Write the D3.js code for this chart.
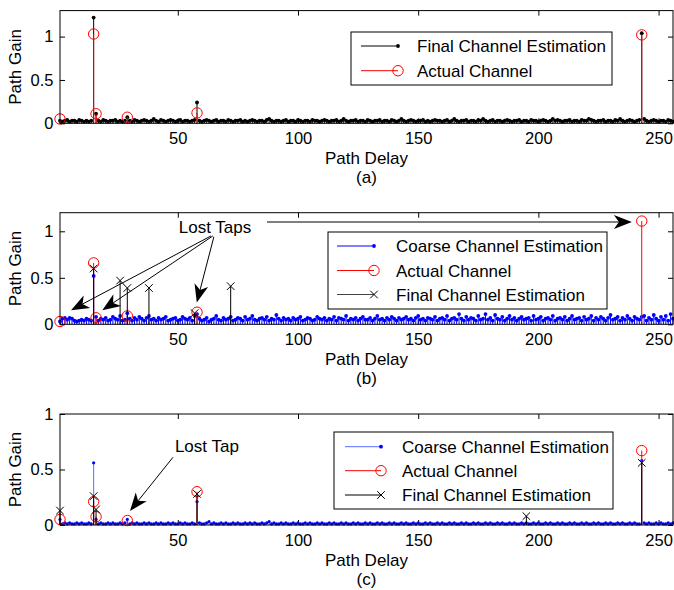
<!DOCTYPE html>
<html><head><meta charset="utf-8">
<script src="https://cdn.jsdelivr.net/npm/d3@7"></script>
<style>
html,body{margin:0;padding:0;background:#fff;}
svg text{font-family:"Liberation Sans",Arial,Helvetica,sans-serif;}
</style></head>
<body><svg id="chart" width="674" height="590"></svg>
<script>
// ---------- DATA (gains in hundredths where noted) ----------
const xTicks = [50, 100, 150, 200, 250];
const yTicksAll = [0, 0.5, 1];

// (a) Final channel estimation, delays 1..256 (hundredths)
const finalA = [
3,2,3,4,2,3,3,2,4,3,2,3,2,3,122,11,
3,2,4,3,2,3,3,4,2,3,2,3,7,3,2,4,
3,2,3,4,3,2,3,5,3,2,4,3,2,3,4,3,
2,3,4,2,3,3,2,3,4,24,3,2,3,4,3,2,
3,4,2,3,3,2,4,3,2,3,3,4,2,3,2,3,
4,3,2,3,3,2,4,5,3,2,3,3,2,3,4,2,
3,3,2,4,3,2,3,3,2,4,3,3,2,3,4,3,
2,3,3,4,2,3,5,3,2,3,3,4,2,3,3,2,
4,3,2,3,3,4,2,3,3,2,4,3,2,3,5,3,
2,3,4,3,2,3,3,4,2,3,2,3,4,3,3,2,
3,4,2,3,5,3,2,3,3,4,2,3,3,2,4,3,
5,3,2,3,4,2,3,3,2,3,4,3,2,3,3,4,
2,3,3,2,4,3,3,2,3,4,3,2,3,5,3,4,
3,2,3,3,4,2,3,3,2,4,3,3,5,4,3,2,
3,3,4,2,3,3,2,4,3,5,3,2,3,4,3,2,
3,4,104,5,3,2,3,4,3,2,3,3,2,4,3,2];
const actualADelay = [1, 15, 16, 29, 58, 243];
const actualAGain  = [0.05, 1.03, 0.11, 0.07, 0.12, 1.02];

// (b) Coarse channel estimation, delays 1..256 (hundredths)
const coarseB = [
3,6,7,5,7,6,4,3,4,5,4,6,5,4,52,8,
4,6,5,7,4,5,8,6,5,9,4,5,12,6,4,7,
5,8,6,4,7,9,5,6,4,7,5,6,8,4,5,6,
7,4,5,8,6,5,7,4,9,11,6,4,5,7,3,5,
6,9,5,4,7,5,6,8,4,5,7,6,4,8,5,6,
9,5,4,6,7,5,8,4,6,5,10,6,4,7,5,6,
4,7,5,6,8,4,5,7,6,4,5,8,6,5,7,4,
6,5,8,4,7,6,5,9,4,6,5,7,4,6,8,5,
5,7,4,6,9,5,6,4,7,5,8,6,4,7,5,6,
8,5,6,4,7,9,5,6,4,7,6,5,8,4,6,7,
5,9,4,6,7,5,11,6,4,8,5,7,6,4,9,5,
6,11,5,7,4,10,6,5,8,4,6,9,5,7,4,6,
8,5,6,7,4,9,5,6,8,4,6,7,5,9,4,6,
7,5,8,4,6,9,5,6,7,4,8,5,6,9,4,7,
5,8,6,4,7,10,5,6,8,4,7,5,9,6,4,8,
6,5,8,9,4,7,5,10,6,4,8,5,9,4,11,6];
const actualBDelay = [1, 15, 16, 29, 58, 243];
const actualBGain  = [0.03, 0.66, 0.07, 0.09, 0.13, 1.11];
const finalBDelay  = [15, 26, 29, 38, 57, 72];
const finalBGain   = [0.60, 0.47, 0.39, 0.39, 0.12, 0.41];

// (c) Coarse channel estimation, delays 1..256 (hundredths)
const coarseC = [
5,1,2,1,2,1,1,2,1,2,1,1,2,1,56,5,
1,2,1,1,2,1,2,1,1,2,1,2,5,1,2,1,
2,1,1,2,1,2,1,1,2,1,2,1,1,2,1,2,
1,1,2,1,2,1,1,2,1,21,2,1,1,2,3,1,
2,1,1,2,1,2,1,1,2,1,2,1,1,2,1,2,
1,2,1,1,2,1,2,3,1,2,1,1,2,1,2,1,
1,2,1,2,1,1,2,1,2,1,1,2,1,2,1,1,
2,1,2,1,1,2,1,2,1,1,2,1,2,1,1,2,
1,2,1,1,2,1,2,1,1,2,1,2,1,1,2,1,
2,1,1,2,1,2,1,1,2,1,2,1,1,2,1,2,
1,1,2,1,2,1,1,2,1,2,1,1,2,1,2,1,
1,2,1,2,1,1,2,1,2,1,1,2,1,2,1,1,
2,1,2,1,1,2,1,2,1,1,2,1,2,1,1,2,
1,2,1,1,2,1,2,1,1,2,1,2,1,1,2,1,
2,1,1,2,1,2,1,1,2,1,2,1,1,2,1,2,
1,1,58,2,1,2,1,1,2,1,2,1,1,2,1,2];
const actualCDelay = [1, 15, 16, 29, 58, 243];
const actualCGain  = [0.05, 0.21, 0.075, 0.04, 0.30, 0.67];
const finalCDelay  = [1, 15, 16, 58, 195, 243];
const finalCGain   = [0.13, 0.26, 0.14, 0.28, 0.08, 0.56];

const legendA = ["Final Channel Estimation", "Actual Channel"];
const legendBC = ["Coarse Channel Estimation", "Actual Channel", "Final Channel Estimation"];
const captions = ["(a)", "(b)", "(c)"];

// ---------- DRAWING ----------
const svg = d3.select("#chart");
const FONT = 16.5;
const x = d3.scaleLinear().domain([1, 256]).range([60, 673]);

const panels = [
  {top: 10.6, bottom: 123.3, ymax: 1.3, cap: captions[0]},
  {top: 212.7, bottom: 324.3, ymax: 1.2, cap: captions[1]},
  {top: 414, bottom: 525, ymax: 1.0, cap: captions[2]}
];
panels.forEach(p => { p.y = d3.scaleLinear().domain([0, p.ymax]).range([p.bottom, p.top]); });

function hundredths(arr){ return arr.map((v,i)=>({d:i+1, g:v/100})); }
function pairs(ds, gs){ return ds.map((d,i)=>({d:d, g:gs[i]})); }

function stems(g, p, data, color, width){
  g.append("g").selectAll("line").data(data).join("line")
    .attr("x1", d=>x(d.d)).attr("x2", d=>x(d.d))
    .attr("y1", p.y(0)).attr("y2", d=>p.y(d.g))
    .attr("stroke", color).attr("stroke-width", width||1);
}
function dots(g, p, data, color, r){
  g.append("g").selectAll("circle").data(data).join("circle")
    .attr("cx", d=>x(d.d)).attr("cy", d=>p.y(d.g)).attr("r", r).attr("fill", color);
}
function rings(g, p, data, color){
  g.append("g").selectAll("circle").data(data).join("circle")
    .attr("cx", d=>x(d.d)).attr("cy", d=>p.y(d.g)).attr("r", 5.2)
    .attr("fill", "none").attr("stroke", color).attr("stroke-width", 1);
}
function crosses(g, p, data, color){
  const s = 3.8;
  g.append("g").selectAll("path").data(data).join("path")
    .attr("d", d=>{const cx=x(d.d), cy=p.y(d.g);
      return `M${cx-s},${cy-s}L${cx+s},${cy+s}M${cx-s},${cy+s}L${cx+s},${cy-s}`;})
    .attr("stroke", color).attr("stroke-width", 1).attr("fill","none");
}

function frame(p){
  const g = svg.append("g");
  const ax = d3.axisBottom(x).tickValues(xTicks).tickSizeInner(-5).tickSizeOuter(0).tickPadding(9);
  const gx = g.append("g").attr("transform", `translate(0,${p.bottom})`).call(ax);
  const axT = d3.axisTop(x).tickValues(xTicks).tickSizeInner(-5).tickSizeOuter(0).tickFormat("");
  const gxt = g.append("g").attr("transform", `translate(0,${p.top})`).call(axT);
  const yt = yTicksAll.filter(v=>v<=p.ymax);
  const ay = d3.axisLeft(p.y).tickValues(yt).tickSizeInner(-5).tickSizeOuter(0).tickPadding(6.5).tickFormat(d3.format("~g"));
  const gy = g.append("g").attr("transform", `translate(${x(1)},0)`).call(ay);
  const ayR = d3.axisRight(p.y).tickValues(yt).tickSizeInner(-5).tickSizeOuter(0).tickFormat("");
  const gyr = g.append("g").attr("transform", `translate(${x(256)},0)`).call(ayR);
  [gx,gxt,gy,gyr].forEach(a=>{
    a.select(".domain").remove();
    a.selectAll("line").attr("stroke","#000");
    a.selectAll("text").attr("font-size", FONT).attr("fill","#000")
      .style("font-family", '"Liberation Sans",Arial,Helvetica,sans-serif');
  });
  const cx = (x(1)+x(256))/2;
  g.append("text").attr("x", cx).attr("y", p.bottom+41).attr("text-anchor","middle")
    .attr("font-size", 17).text("Path Delay");
  g.append("text").attr("x", cx).attr("y", p.bottom+59.5).attr("text-anchor","middle")
    .attr("font-size", 17).text(p.cap);
  g.append("text").attr("transform", `translate(21,${(p.top+p.bottom)/2}) rotate(-90)`)
    .attr("text-anchor","middle").attr("font-size", 17).text("Path Gain");
  return g;
}
function box(p){
  svg.append("rect").attr("x", x(1)).attr("y", p.top)
    .attr("width", x(256)-x(1)).attr("height", p.bottom-p.top)
    .attr("fill","none").attr("stroke","#000").attr("stroke-width",1);
}

function legend(lx, ly, w, h, entries, textX, lineX0, lineX1, rowYs){
  const g = svg.append("g");
  g.append("rect").attr("x", lx).attr("y", ly).attr("width", w).attr("height", h)
    .attr("fill","#fff").attr("stroke","#000").attr("stroke-width",1);
  entries.forEach((e,i)=>{
    const yy = rowYs[i];
    g.append("line").attr("x1", lineX0).attr("x2", lineX1).attr("y1", yy).attr("y2", yy)
      .attr("stroke", e.color).attr("stroke-width", 1);
    if (e.marker === "dot") g.append("circle").attr("cx", lineX1).attr("cy", yy).attr("r", 1.9).attr("fill", e.mcolor||e.color);
    if (e.marker === "ring") g.append("circle").attr("cx", lineX1).attr("cy", yy).attr("r", 5.2).attr("fill","none").attr("stroke", e.color);
    if (e.marker === "cross") { const s=3.8;
      g.append("path").attr("d", `M${lineX1-s},${yy-s}L${lineX1+s},${yy+s}M${lineX1-s},${yy+s}L${lineX1+s},${yy-s}`)
       .attr("stroke", "#000").attr("fill","none"); }
    g.append("text").attr("x", textX).attr("y", yy+6).attr("font-size", 17).attr("fill","#000").text(e.label);
  });
}

function arrow(p, x0d, y0g, x1d, y1g){
  const X0=x(x0d), Y0=p.y(y0g), X1=x(x1d), Y1=p.y(y1g);
  const dx=X1-X0, dy=Y1-Y0, L=Math.hypot(dx,dy), ux=dx/L, uy=dy/L, nx=-uy, ny=ux;
  const len=18, hw=7, notch=5;
  const bx=X1-len*ux, by=Y1-len*uy, mx=X1-(len-notch)*ux, my=Y1-(len-notch)*uy;
  svg.append("line").attr("x1",X0).attr("y1",Y0).attr("x2",mx).attr("y2",my)
    .attr("stroke","#000").attr("stroke-width",1);
  svg.append("path").attr("d", `M${X1},${Y1}L${bx+hw*nx},${by+hw*ny}L${mx},${my}L${bx-hw*nx},${by-hw*ny}Z`)
    .attr("fill","#000");
}

// ----- Panel (a)
{
  const p = panels[0]; const g = frame(p);
  const fa = hundredths(finalA), aa = pairs(actualADelay, actualAGain);
  stems(g, p, fa, "#000"); dots(g, p, fa, "#000", 1.9);
  stems(g, p, aa, "#f00"); rings(g, p, aa, "#f00");
  box(p);
  legend(351, 32, 261, 53, [
    {label: legendA[0], color:"#000", marker:"dot"},
    {label: legendA[1], color:"#f00", marker:"ring"}], 417, 361, 398, [46, 70.7]);
}
// ----- Panel (b)
{
  const p = panels[1]; const g = frame(p);
  const cb = hundredths(coarseB), ab = pairs(actualBDelay, actualBGain), fb = pairs(finalBDelay, finalBGain);
  stems(g, p, cb, "#00f"); dots(g, p, cb, "#00f", 1.9);
  stems(g, p, ab, "#f00"); rings(g, p, ab, "#f00");
  stems(g, p, fb, "#000"); crosses(g, p, fb, "#000");
  box(p);
  legend(328, 232, 279, 77, [
    {label: legendBC[0], color:"#00f", marker:"dot"},
    {label: legendBC[1], color:"#f00", marker:"ring"},
    {label: legendBC[2], color:"#444", marker:"cross"}], 396, 337, 374, [246, 270.5, 294.5]);
  svg.append("text").attr("x", x(65.5)).attr("y", p.y(0.979)).attr("text-anchor","middle")
    .attr("font-size", 17).text("Lost Taps");
  arrow(p, 63.8, 0.95, 5.6, 0.152);
  arrow(p, 64.6, 0.95, 18.6, 0.152);
  arrow(p, 65.0, 0.94, 57.9, 0.234);
  arrow(p, 87.1, 1.10, 238.9, 1.10);
}
// ----- Panel (c)
{
  const p = panels[2]; const g = frame(p);
  const cc = hundredths(coarseC), ac = pairs(actualCDelay, actualCGain), fc = pairs(finalCDelay, finalCGain);
  stems(g, p, cc, "#5070ff"); dots(g, p, cc, "#00f", 1.6);
  stems(g, p, ac, "#f00"); rings(g, p, ac, "#f00");
  stems(g, p, fc, "#000"); crosses(g, p, fc, "#000");
  box(p);
  legend(334, 432, 279, 77, [
    {label: legendBC[0], color:"#5070ff", marker:"dot", mcolor:"#00f"},
    {label: legendBC[1], color:"#f00", marker:"ring"},
    {label: legendBC[2], color:"#000", marker:"cross"}], 402, 345, 381, [446.7, 470.7, 495]);
  svg.append("text").attr("x", x(48.8)).attr("y", p.y(0.66)).attr("text-anchor","start")
    .attr("font-size", 17).text("Lost Tap");
  arrow(p, 48.0, 0.61, 30.1, 0.126);
}
</script>
</body></html>
